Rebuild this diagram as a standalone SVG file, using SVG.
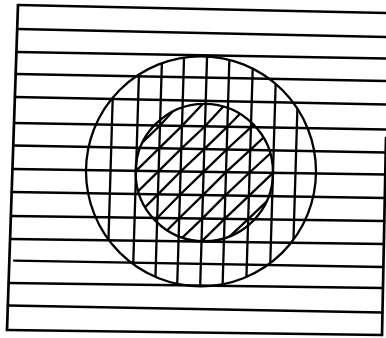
<svg xmlns="http://www.w3.org/2000/svg" width="386" height="338" viewBox="0 0 386 338">
<style>
.ln{stroke:#000;stroke-width:2.3;fill:none;stroke-linecap:round}
.fr{stroke:#000;stroke-width:2.7;fill:none;stroke-linecap:round}
</style>
<defs>
<clipPath id="bigClip"><circle cx="201" cy="171.3" r="115"/></clipPath>
<clipPath id="smallClip"><circle cx="204.3" cy="172.5" r="68.7"/></clipPath>
</defs>
<rect width="386" height="338" fill="#fff"/>
<g id="frame">
<line class="fr" x1="18" y1="5" x2="386" y2="13"/>
<line class="fr" x1="18" y1="5" x2="7" y2="330"/>
<line class="fr" x1="7" y1="330" x2="382" y2="335"/>
<line class="fr" x1="386" y1="138" x2="382" y2="335"/>
</g>
<g id="horizontals">
<line class="ln" x1="17.2" y1="29" x2="386" y2="37"/>
<line class="ln" x1="16.4" y1="52" x2="386" y2="58.5"/>
<line class="ln" x1="15.7" y1="74" x2="386" y2="81"/>
<line class="ln" x1="14.9" y1="97" x2="386" y2="104.5"/>
<line class="ln" x1="14" y1="123" x2="386" y2="129.5"/>
<line class="ln" x1="13.2" y1="145.5" x2="385.8" y2="152.5"/>
<line class="ln" x1="12.4" y1="169" x2="385.3" y2="174.5"/>
<line class="ln" x1="11.7" y1="192" x2="384.9" y2="198"/>
<line class="ln" x1="10.9" y1="216" x2="384.4" y2="221"/>
<line class="ln" x1="10.1" y1="239" x2="383.9" y2="244"/>
<line class="ln" x1="14" y1="260.6" x2="383.4" y2="267"/>
<line class="ln" x1="8.6" y1="283" x2="383" y2="288"/>
<line class="ln" x1="7.8" y1="305.5" x2="382.5" y2="312.5"/>
</g>
<g id="verticals" clip-path="url(#bigClip)">
<line class="ln" x1="114.46" y1="40" x2="106.66" y2="300"/>
<line class="ln" x1="139.96" y1="40" x2="132.16" y2="300"/>
<line class="ln" x1="162.56" y1="40" x2="154.76" y2="300"/>
<line class="ln" x1="184.56" y1="40" x2="176.76" y2="300"/>
<line class="ln" x1="207.56" y1="40" x2="199.76" y2="300"/>
<line class="ln" x1="229.96" y1="40" x2="222.16" y2="300"/>
<line class="ln" x1="253.56" y1="40" x2="245.76" y2="300"/>
<line class="ln" x1="276.96" y1="40" x2="269.16" y2="300"/>
<line class="ln" x1="299.46" y1="40" x2="291.66" y2="300"/>
</g>
<g id="diagonals" clip-path="url(#smallClip)">
<polyline class="ln" points="110.5,170.4 136.7,147.8 160.0,125.5 182.7,100.3 206.4,77.6"/>
<polyline class="ln" points="109.8,193.6 136,170.8 159.3,148.2 182.0,125.9 205.7,100.8 228.8,78.0"/>
<polyline class="ln" points="109.1,217.3 135.3,194.0 158.6,171.1 181.3,148.6 205.0,126.3 228.1,101.3 252.4,78.4"/>
<polyline class="ln" points="108.4,240.3 134.6,217.7 157.9,194.4 180.6,171.5 204.3,149.1 227.4,126.7 251.7,101.7 275.8,78.9"/>
<polyline class="ln" points="107.8,262.2 133.9,240.7 157.2,218.0 179.9,194.7 203.6,171.8 226.7,149.5 251.0,127.1 275.1,102.2 298.3,79.3"/>
<polyline class="ln" points="133.3,262.7 156.5,241.0 179.2,218.3 202.9,195.1 226,172.1 250.3,149.9 274.4,127.5 297.6,102.7"/>
<polyline class="ln" points="155.9,263.1 178.5,241.3 202.2,218.6 225.3,195.4 249.6,172.5 273.7,150.4 296.9,127.9"/>
<polyline class="ln" points="177.9,263.4 201.5,241.6 224.6,218.9 248.9,195.8 273,172.8 296.2,150.8"/>
<polyline class="ln" points="200.9,263.8 223.9,241.9 248.2,219.2 272.3,196.2 295.5,173.2"/>
</g>
<g id="circles">
<circle id="outer-circle" class="ln" cx="201" cy="171.3" r="115"/>
<circle id="inner-circle" class="ln" cx="204.3" cy="172.5" r="68.7"/>
</g>
</svg>
